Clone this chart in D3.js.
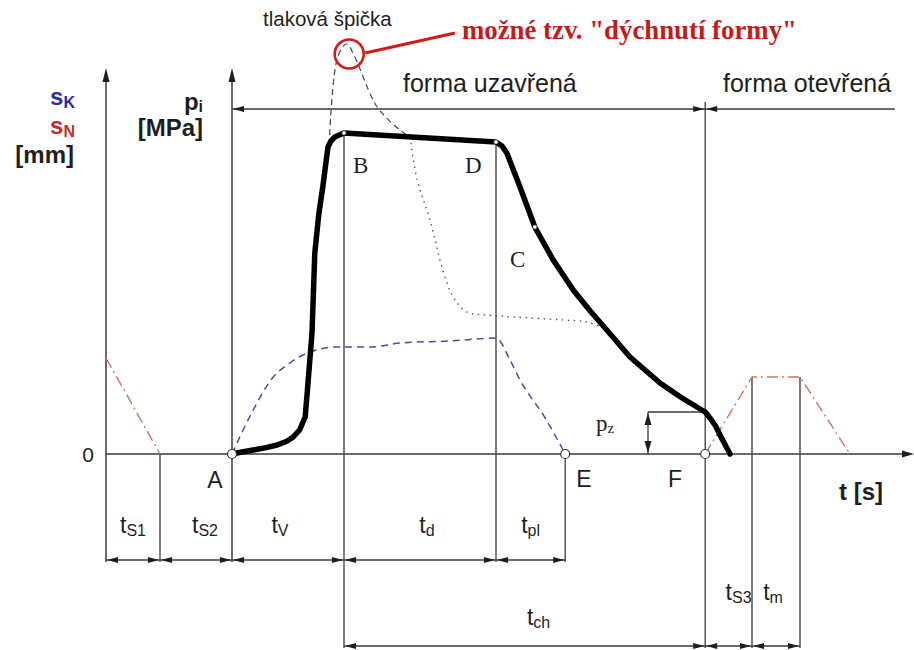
<!DOCTYPE html>
<html>
<head>
<meta charset="utf-8">
<script src="https://cdn.jsdelivr.net/npm/d3@7"></script>
<style>
  body { margin: 0; background: #fff; }
  svg { display: block; }
</style>
</head>
<body>
<svg id="chart" width="914" height="650"></svg>
<script>
// ---- Injection-moulding cycle: cavity pressure, mould travel (s_K, s_N) over time ----

// Phase boundaries on the time axis (relative time units)
const phaseKeys  = ["S1", "A", "B", "D", "E", "F", "S3", "M"];
const phaseTimes = [6.75, 15.75, 29.75, 48.75, 57.4, 74.9, 80.75, 86.75];

// Cavity pressure p_i  [t, p]
const pressureCurve = [
  [15.75, 0], [17, 0.5], [18.4, 1], [20, 1.6], [21.4, 2.25], [22.6, 3.2], [23.4, 4.25],
  [24.2, 6], [24.9, 9.25], [25.25, 17.75], [25.75, 30.25], [26.1, 50.25], [26.6, 60],
  [27.1, 66.75], [27.5, 73], [27.75, 76.75], [28.1, 78.2], [28.6, 79.25],
  [29.75, 80.25], [48.75, 78], [49.5, 77], [50.1, 75.25], [51.75, 66.75],
  [53.6, 56.75], [55.9, 48.5], [58.4, 41], [60.5, 35.8], [62.6, 31], [65.5, 24.25],
  [69.25, 17.75], [72, 14], [74.9, 10.5], [75.5, 9], [76.2, 7], [76.75, 4.75], [78, 0]
];

// Pressure peak ("tlaková špička") and the alternative decay after it
const peakCurve = [
  [27.9, 77.25], [29, 99.5], [30.1, 102.5], [31.1, 99.25], [33.9, 86.75],
  [36.75, 81], [38, 79.25]
];
const peakDecay = [
  [38, 79.25], [38.9, 68.5], [40.5, 58.5], [42.1, 46], [43.4, 39.25], [45.1, 35.5],
  [47.6, 34.75], [50.9, 34.25], [57.1, 33.5], [60.1, 33], [62.1, 31.5]
];

// Screw travel s_K  [t, s]
const screwTravel = [
  [15.75, 0], [18.4, 11], [20.9, 19.25], [22.6, 22.25], [25.5, 25.5], [28.9, 26.75],
  [33, 26.75], [36.75, 27.75], [43, 28.25], [48.75, 29], [50.5, 23.5],
  [51.75, 18.5], [54.9, 9], [57.4, 0]
];

// Nozzle travel s_N  [t, s]
const nozzleApproach = [[0, 24], [6.75, 0]];
const nozzleCycle    = [[74.9, 0], [80.75, 19.25], [86.75, 19.25], [93, 0]];

// Residual pressure level p_z
const residualPressure = 10.5;

// Time-interval labels: [main, subscript, from, to, label shift]
const intervalsRow1 = [
  ["t", "S1", 0, 6.75, 0], ["t", "S2", 6.75, 15.75, 9], ["t", "V", 15.75, 29.75, -8],
  ["t", "d", 29.75, 48.75, 7], ["t", "pl", 48.75, 57.4, 0]
];
const intervalsRow2 = [
  ["t", "ch", 29.75, 74.9, 14], ["t", "S3", 74.9, 80.75, 10], ["t", "m", 80.75, 86.75, -3]
];

const T = k => phaseTimes[phaseKeys.indexOf(k)];

// ---- scales ----
const x = d3.scaleLinear().domain([0, 100]).range([106, 906]);
const y = d3.scaleLinear().domain([0, 96]).range([454, 70]);

const svg = d3.select("#chart");
const sans = "'Liberation Sans', Arial, sans-serif";
const serif = "'Liberation Serif', 'Times New Roman', serif";
const ink = "#1e1e1e";
const thin = "#3a3a3a";

const row1 = y(-26.5);   // dimension line under the base
const row2 = y(-48);     // lower dimension line
const topLine = y(86.25);

function seg(x1, y1, x2, y2, w = 1.3, col = thin) {
  svg.append("line").attr("x1", x1).attr("y1", y1).attr("x2", x2).attr("y2", y2)
    .attr("stroke", col).attr("stroke-width", w);
}
// filled arrowhead with its tip at (tx, ty), pointing toward dir
function head(tx, ty, dir, len = 11, hw = 3) {
  let p;
  if (dir === "left")  p = [[tx, ty], [tx + len, ty - hw], [tx + len, ty + hw]];
  if (dir === "right") p = [[tx, ty], [tx - len, ty - hw], [tx - len, ty + hw]];
  if (dir === "up")    p = [[tx, ty], [tx - hw, ty + len], [tx + hw, ty + len]];
  if (dir === "down")  p = [[tx, ty], [tx - hw, ty - len], [tx + hw, ty - len]];
  svg.append("path").attr("d", "M" + p.map(q => q.join(",")).join("L") + "Z").attr("fill", ink);
}
function label(px, py, main, sub, o = {}) {
  const t = svg.append("text").attr("x", px).attr("y", py)
    .attr("font-family", o.family || sans).attr("font-size", o.size || 22)
    .attr("font-weight", o.weight || "normal").attr("fill", o.color || ink)
    .attr("text-anchor", o.anchor || "start");
  t.append("tspan").text(main);
  if (sub) t.append("tspan").attr("font-size", o.subSize || 15).attr("dy", o.subDy || 4).text(sub);
  return t;
}

// ---- axes and construction lines ----
seg(x(0), y(96) + 4, x(0), row1 + 2, 1.5);
head(x(0), y(96) - 2, "up", 14, 3.5);
seg(x(T("A")), y(96) + 4, x(T("A")), row1 + 2, 1.5);
head(x(T("A")), y(96) - 2, "up", 14, 3.5);
seg(x(0), y(0), 905, y(0), 1.5);
head(914, y(0), "right", 12, 3.5);

seg(x(T("S1")), y(0), x(T("S1")), row1 + 2);
seg(x(T("B")), y(80.25), x(T("B")), row2 + 2);
seg(x(T("D")), y(78), x(T("D")), row1 + 2);
seg(x(T("E")), y(0), x(T("E")), row1 + 2);
seg(x(T("F")), y(88), x(T("F")), row2 + 2);
seg(x(T("S3")), y(19.25), x(T("S3")), row2 + 2);
seg(x(T("M")), y(19.25), x(T("M")), row2 + 2);

// closed / open mould band
seg(x(T("A")), topLine, x(98.6), topLine, 1.4);
head(x(T("A")) + 1, topLine, "left");
head(x(T("F")) - 1, topLine, "right");
head(x(T("F")) + 1, topLine, "left");

// dimension lines
function dimRow(list, ry) {
  const x0 = d3.min(list, d => d[2]), x1 = d3.max(list, d => d[3]);
  seg(x(x0), ry, x(x1), ry, 1.3);
  list.forEach(d => { head(x(d[2]) + 1, ry, "left"); head(x(d[3]) - 1, ry, "right"); });
}
dimRow(intervalsRow1, row1);
dimRow(intervalsRow2, row2);

// residual pressure dimension
const pzX = x(67.75);
seg(pzX, y(residualPressure), x(T("F")), y(residualPressure), 1.3);
seg(pzX, y(residualPressure), pzX, y(0), 1.3);
head(pzX, y(residualPressure) + 1, "up", 12, 3.5);
head(pzX, y(0) - 1, "down", 12, 3.5);

// ---- curves ----
const lineGen = d3.line().x(d => x(d[0])).y(d => y(d[1]));

svg.append("path").datum(nozzleApproach).attr("d", lineGen.curve(d3.curveLinear))
  .attr("fill", "none").attr("stroke", "#d2735f").attr("stroke-width", 1.4)
  .attr("stroke-dasharray", "11,4,2,4");
svg.append("path").datum(nozzleCycle).attr("d", lineGen.curve(d3.curveLinear))
  .attr("fill", "none").attr("stroke", "#d2735f").attr("stroke-width", 1.4)
  .attr("stroke-dasharray", "11,4,2,4");

svg.append("path").datum(screwTravel).attr("d", lineGen.curve(d3.curveMonotoneX))
  .attr("fill", "none").attr("stroke", "#4a4aa6").attr("stroke-width", 1.5)
  .attr("stroke-dasharray", "7,5");

svg.append("path").datum(peakCurve).attr("d", lineGen.curve(d3.curveCatmullRom.alpha(0.5)))
  .attr("fill", "none").attr("stroke", "#444").attr("stroke-width", 1.2)
  .attr("stroke-dasharray", "6,4");
svg.append("path").datum(peakDecay).attr("d", lineGen.curve(d3.curveCatmullRom.alpha(0.5)))
  .attr("fill", "none").attr("stroke", "#555").attr("stroke-width", 1.4)
  .attr("stroke-dasharray", "1.5,4.5");

svg.append("path").datum(pressureCurve).attr("d", lineGen.curve(d3.curveLinear))
  .attr("fill", "none").attr("stroke", "#000").attr("stroke-width", 5.5)
  .attr("stroke-linejoin", "round").attr("stroke-linecap", "round");

// small markers on the pressure curve
[[T("B"), 80.25], [T("D"), 78], [53.6, 56.75]].forEach(d => {
  svg.append("circle").attr("cx", x(d[0])).attr("cy", y(d[1])).attr("r", 2)
    .attr("fill", "#fff").attr("stroke", "#777").attr("stroke-width", 0.6);
});
// open points A, E, F on the time axis
["A", "E", "F"].forEach(k => {
  svg.append("circle").attr("cx", x(T(k))).attr("cy", y(0)).attr("r", 4.5)
    .attr("fill", "#fff").attr("stroke", "#333").attr("stroke-width", 1.2);
});

// highlight of the pressure peak
svg.append("circle").attr("cx", x(30.4)).attr("cy", y(100)).attr("r", 14.5)
  .attr("fill", "none").attr("stroke", "#d01c1c").attr("stroke-width", 2.6);
seg(x(32.4), y(100.25), 455, 33, 3, "#d01c1c");

// ---- text ----
label(75, 105, "s", "K", { size: 24, weight: "bold", color: "#2d2da0", anchor: "end", subSize: 16, subDy: 3 });
label(75, 134, "s", "N", { size: 24, weight: "bold", color: "#c62a2a", anchor: "end", subSize: 16, subDy: 3 });
label(74, 163, "[mm]", null, { size: 24, weight: "bold", anchor: "end" });
label(203, 110, "p", "i", { size: 24, weight: "bold", anchor: "end", subSize: 16, subDy: 2 });
label(203, 136, "[MPa]", null, { size: 24, weight: "bold", anchor: "end" });

label(263, 26, "tlaková špička", null, { size: 20.5 });
label(462, 39, "možné tzv. \"dýchnutí formy\"", null, { family: serif, size: 26.8, weight: "bold", color: "#c81a1a" });
label(403, 92, "forma uzavřená", null, { size: 25 });
label(723, 92, "forma otevřená", null, { size: 25 });

label(353, 173, "B", null, { family: serif, size: 23 });
label(465, 173, "D", null, { family: serif, size: 23 });
label(510, 267, "C", null, { family: serif, size: 23 });
label(596, 431, "p", "z", { family: serif, size: 23, subSize: 15, subDy: 2 });

label(215, 488, "A", null, { size: 23, anchor: "middle" });
label(584, 487, "E", null, { size: 23, anchor: "middle" });
label(675, 487, "F", null, { size: 23, anchor: "middle" });
label(88, 462, "0", null, { size: 21, anchor: "middle" });
label(861, 500, "t [s]", null, { size: 24, weight: "bold", anchor: "middle" });

intervalsRow1.forEach(d => {
  label((x(d[2]) + x(d[3])) / 2 + d[4], 533, d[0], d[1], { size: 23, anchor: "middle", subSize: 16, subDy: 3 });
});
intervalsRow2.forEach((d, i) => {
  label((x(d[2]) + x(d[3])) / 2 + d[4], i === 0 ? 625 : 600, d[0], d[1],
    { size: 23, anchor: "middle", subSize: 16, subDy: 3 });
});
</script>
</body>
</html>
